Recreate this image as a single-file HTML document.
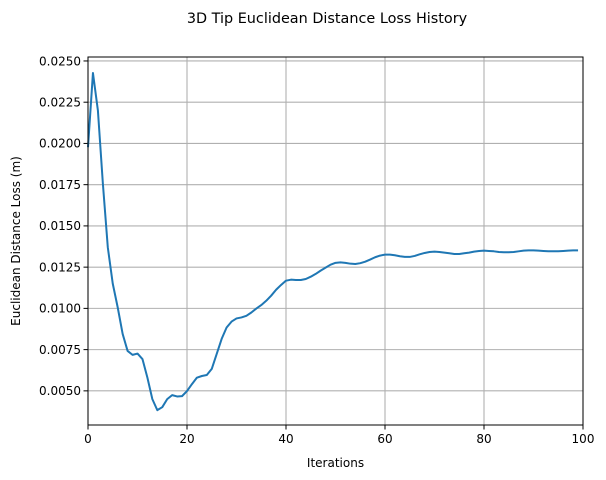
<!DOCTYPE html>
<html><head><meta charset="utf-8"><style>
body{margin:0;background:#fff}
svg{display:block;font-family:"DejaVu Sans","Liberation Sans",sans-serif}
</style></head><body>
<svg id="chart" width="606" height="480">
<text x="327" y="23" text-anchor="middle" font-size="14.4">3D Tip Euclidean Distance Loss History</text>
<g id="grid"></g>
<g id="ticks"></g>
<path id="line" fill="none" stroke="#1f77b4" stroke-width="2" stroke-linejoin="round"/>
<rect x="88" y="57" width="495" height="368" fill="none" stroke="#000" stroke-width="1"/>
<text x="335.5" y="467" text-anchor="middle" font-size="12">Iterations</text>
<text transform="translate(20,241) rotate(-90)" text-anchor="middle" font-size="12">Euclidean Distance Loss (m)</text>
</svg>
<script>
const losses=[0.01977,0.02427,0.0220,0.01758,0.01370,0.01150,0.01006,0.00845,0.00742,0.00718,
0.00726,0.00693,0.00580,0.00450,0.00383,0.00401,0.00450,0.00474,0.00466,0.00468,
0.00499,0.00541,0.00580,0.00590,0.00596,0.00633,0.00724,0.00815,0.00884,0.00920,
0.00939,0.00945,0.00955,0.00975,0.00999,0.01020,0.01046,0.01077,0.01113,0.01142,
0.01168,0.01174,0.01172,0.01172,0.01178,0.01192,0.01209,0.01229,0.01247,0.01265,
0.01276,0.01279,0.01276,0.01271,0.01269,0.01274,0.01283,0.01296,0.01310,0.01320,
0.01326,0.01326,0.01322,0.01316,0.01312,0.01312,0.01318,0.01328,0.01336,0.01342,
0.01344,0.01342,0.01338,0.01334,0.01330,0.01330,0.01334,0.01338,0.01344,0.01348,
0.01350,0.01348,0.01346,0.01342,0.0134,0.0134,0.01342,0.01346,0.0135,0.01352,
0.01352,0.0135,0.01348,0.01346,0.01346,0.01346,0.01348,0.0135,0.01352,0.01352];
const xTicks=[0,20,40,60,80,100];
const yTicks=[0.0050,0.0075,0.0100,0.0125,0.0150,0.0175,0.0200,0.0225,0.0250];
const L=88,R=583,T=57,B=425,XMIN=0,XMAX=100,YMIN=0.00293,YMAX=0.02524;
const sx=v=>L+(v-XMIN)/(XMAX-XMIN)*(R-L);
const sy=v=>B-(v-YMIN)/(YMAX-YMIN)*(B-T);
const NS="http://www.w3.org/2000/svg";
const grid=document.getElementById('grid'),ticks=document.getElementById('ticks');
function mk(tag,attrs,parent){const e=document.createElementNS(NS,tag);for(const k in attrs)e.setAttribute(k,attrs[k]);parent.appendChild(e);return e;}
xTicks.forEach(t=>{
  const x=sx(t);
  const g=mk('line',{x1:x,x2:x,y1:T,y2:B,stroke:'#b0b0b0','stroke-width':1.1},grid);
  
  
  mk('line',{x1:x,x2:x,y1:B,y2:B+4.5,stroke:'#000','stroke-width':1},ticks);
  const tx=mk('text',{x:x,y:B+18,'text-anchor':'middle','font-size':12},ticks);
  tx.textContent=t;
  
  
});
yTicks.forEach(t=>{
  const y=sy(t);
  const g=mk('line',{x1:L,x2:R,y1:y,y2:y,stroke:'#b0b0b0','stroke-width':1.1},grid);
  
  
  mk('line',{x1:L-4.5,x2:L,y1:y,y2:y,stroke:'#000','stroke-width':1},ticks);
  const tx=mk('text',{x:L-7,y:y+4.3,'text-anchor':'end','font-size':12},ticks);
  tx.textContent=t.toFixed(4);
  
  
});
document.getElementById('line').setAttribute('d',losses.map((v,i)=>(i?'L':'M')+sx(i).toFixed(2)+','+sy(v).toFixed(2)).join(''));
</script>
</body></html>
